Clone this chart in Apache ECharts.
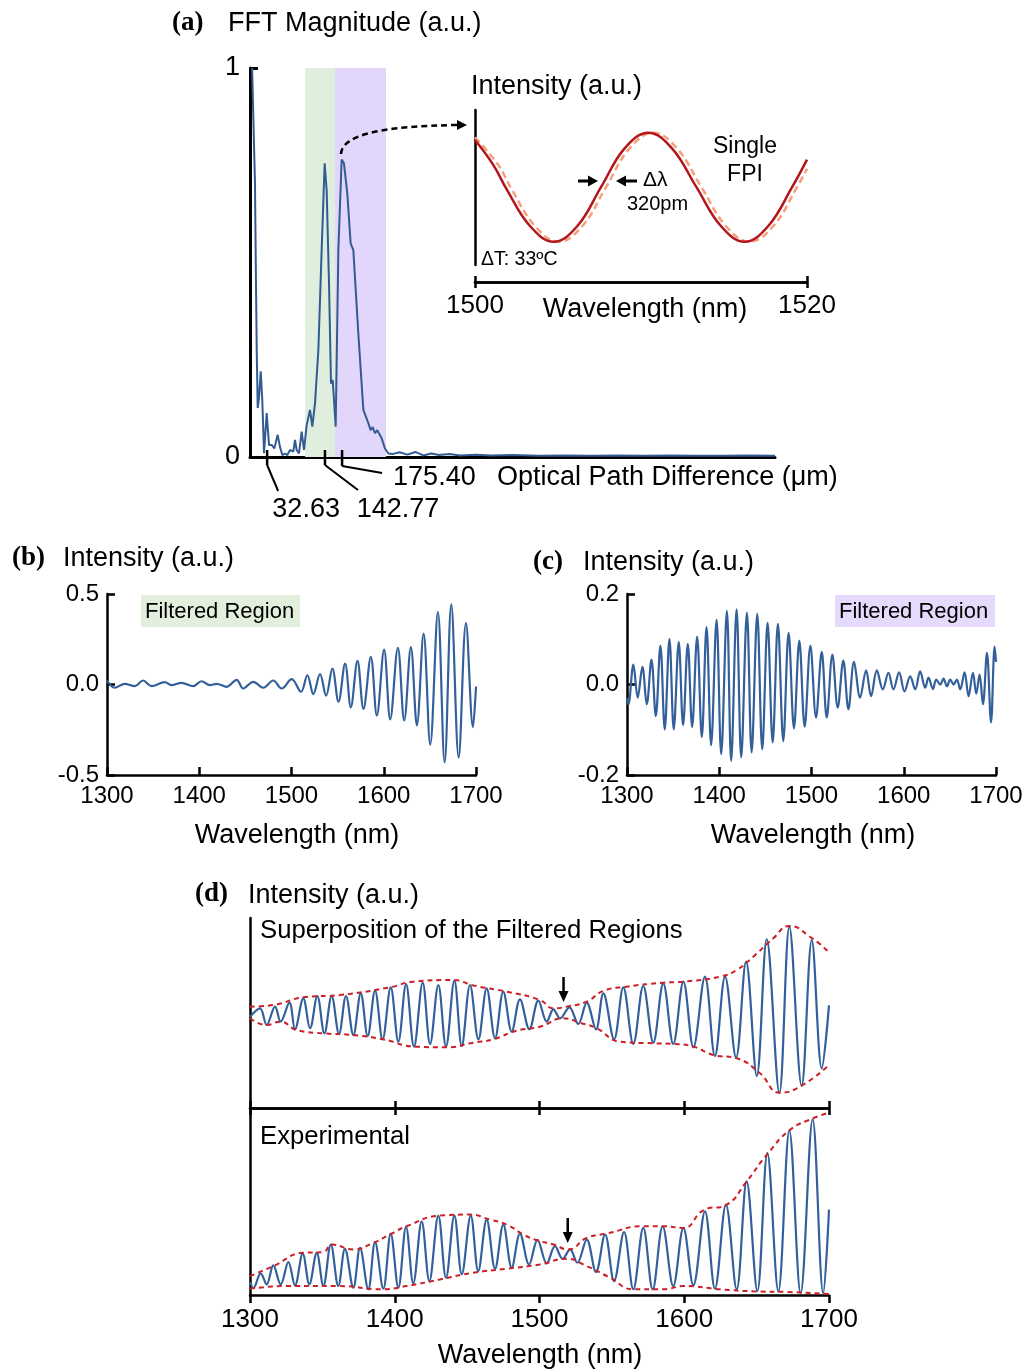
<!DOCTYPE html>
<html><head><meta charset="utf-8">
<script src="https://cdn.jsdelivr.net/npm/echarts@6/dist/echarts.min.js"></script>
<style>html,body{margin:0;padding:0;background:#fff}#c{width:1029px;height:1371px}</style>
</head><body><div id="c"></div>
<script>
// ---------------- DATA ----------------
// (a) FFT magnitude vs optical path difference (um)
const fftData = [[4,1.0],[6.3,0.995],[9.5,0.703],[11.4,0.445],[12.8,0.275],[14.7,0.126],[17,0.15],[20.4,0.22],[23.4,0.147],[26.7,0.01],[31.8,0.113],[36.2,0.031],[41.3,0.031],[46.3,0.022],[52.7,0.057],[57.1,0.026],[61.6,0.005],[66.7,0.009],[71.1,0.005],[76.2,0.018],[79.4,0.022],[82.5,0.014],[85.7,0.044],[88.9,0.018],[93.3,0.009],[98.4,0.065],[102.9,0.018],[107.9,0.082],[114.3,0.121],[118.7,0.078],[123.8,0.138],[130.2,0.275],[136.5,0.532],[142.2,0.755],[146.0,0.686],[150.5,0.446],[154.3,0.189],[157.5,0.198],[160,0.147],[163.2,0.078],[168.3,0.532],[174.6,0.765],[179,0.755],[185.3,0.678],[191.7,0.549],[196.8,0.532],[206.3,0.318],[215.9,0.121],[225.4,0.087],[229.8,0.069],[233.7,0.077],[238.1,0.061],[242.5,0.069],[250.8,0.048],[257.1,0.022],[263.5,0.009],[273,0.008],[285,0.012],[300,0.006],[315,0.013],[330,0.004],[345,0.009],[360,0.005],[380,0.008],[400,0.004],[430,0.006],[460,0.004],[500,0.005],[550,0.003],[600,0.004],[650,0.003],[700,0.004],[750,0.003],[800,0.004],[850,0.003],[900,0.003],[950,0.004],[1000,0.003]];
const bandGreen = [105, 162];
const bandPurple = [162, 259];
const opdTicks = [32.63, 142.77, 175.40];
const opdTickLabels = ['32.63', '142.77', '175.40'];

// (a) inset: single FPI spectrum, before / after temperature change
const insetSolid = [[1500,0.806],[1501.1,0.646],[1501.9,0.49],[1503.3,0.253],[1504.74,0.150],[1506.18,0.253],[1507.59,0.502],[1509.0,0.751],[1510.44,0.854],[1511.88,0.751],[1513.34,0.502],[1514.8,0.253],[1516.24,0.150],[1517.68,0.253],[1519.1,0.502],[1520,0.68]];
const insetDashed = [[1500,0.824],[1501.4,0.646],[1502.2,0.49],[1503.6,0.253],[1505.04,0.150],[1506.48,0.253],[1507.89,0.502],[1509.3,0.751],[1510.74,0.854],[1512.18,0.751],[1513.64,0.502],[1515.1,0.253],[1516.54,0.150],[1517.98,0.253],[1519.4,0.502],[1520,0.62]];
const insetTicks = [1500, 1520];

// (b) filtered region (green) : extrema [wavelength nm, intensity]
const bData = [[1300,0.022],[1308.4,-0.018],[1319.2,0.004],[1330.1,-0.009],[1339.1,0.022],[1348.2,-0.009],[1362.6,0.013],[1369.9,-0.004],[1380.8,0.009],[1393.4,-0.009],[1402.5,0.018],[1411.5,-0.004],[1418.8,0.004],[1429.6,-0.013],[1440.5,0.026],[1447.7,-0.022],[1458.5,0.015],[1469.4,-0.018],[1480.2,0.022],[1489.4,-0.022],[1500.2,0.03],[1510.3,-0.04],[1517.2,0.051],[1523.7,-0.053],[1530.9,0.058],[1537.5,-0.062],[1544.3,0.088],[1550.9,-0.095],[1558.1,0.115],[1564.3,-0.126],[1571.5,0.13],[1578.0,-0.135],[1586.0,0.153],[1592.5,-0.172],[1600.4,0.193],[1607.0,-0.193],[1615.3,0.203],[1622.2,-0.199],[1629.4,0.206],[1635.9,-0.226],[1643.2,0.281],[1650.4,-0.332],[1658.7,0.40],[1666.0,-0.43],[1673.2,0.443],[1681.2,-0.403],[1689.1,0.339],[1696.7,-0.235],[1700,-0.011]];

// (c) filtered region (purple)
const cData = [[1300,-0.03],[1301.5,-0.044],[1306.9,0.044],[1311.6,-0.029],[1316.7,0.039],[1321.4,-0.044],[1326.5,0.055],[1331.2,-0.070],[1336.2,0.086],[1340.9,-0.099],[1346.0,0.101],[1350.7,-0.099],[1356.1,0.094],[1360.8,-0.090],[1365.9,0.090],[1370.6,-0.094],[1376.0,0.106],[1381.1,-0.116],[1386.2,0.127],[1391.2,-0.134],[1397.1,0.143],[1402.1,-0.154],[1408.3,0.163],[1412.9,-0.169],[1418.8,0.166],[1423.8,-0.161],[1430.0,0.159],[1435.1,-0.150],[1441.2,0.156],[1446.6,-0.143],[1452.4,0.136],[1457.9,-0.128],[1463.6,0.134],[1469.4,-0.125],[1475.2,0.114],[1481.0,-0.097],[1486.8,0.097],[1492.6,-0.093],[1498.8,0.086],[1504.9,-0.073],[1511.1,0.072],[1516.5,-0.073],[1522.6,0.066],[1528.4,-0.051],[1534.5,0.053],[1540,-0.055],[1546.1,0.050],[1552.7,-0.029],[1559.2,0.031],[1564.6,-0.026],[1570.8,0.031],[1577.3,-0.011],[1583.4,0.026],[1588.8,-0.011],[1595.0,0.027],[1600.8,-0.015],[1607.0,0.018],[1612.4,-0.011],[1617.8,0.029],[1623.2,-0.007],[1626.8,0.015],[1631.6,-0.010],[1635.2,0.011],[1639.5,0.0],[1643.1,0.013],[1646.8,-0.004],[1650.4,0.011],[1654,0.0],[1657.6,0.011],[1661.2,-0.011],[1665.9,0.027],[1670.3,-0.026],[1675,0.026],[1678.6,-0.02],[1682.2,0.022],[1685.8,-0.044],[1690.2,0.07],[1694.6,-0.084],[1698.5,0.084],[1700,0.05]];

// (d) superposition of filtered regions
const dSimData = [[1300,-0.039],[1306.9,0.049],[1311.5,-0.126],[1317.3,0.067],[1321.2,-0.091],[1327.2,0.109],[1331.1,-0.172],[1336.8,0.154],[1341.5,-0.161],[1346.5,0.179],[1351.4,-0.214],[1356.4,0.179],[1361.5,-0.221],[1366.3,0.179],[1371.4,-0.232],[1376.5,0.207],[1381.3,-0.242],[1386.4,0.235],[1391.6,-0.277],[1397.2,0.270],[1402.5,-0.302],[1407.8,0.305],[1413.3,-0.354],[1419.3,0.319],[1424.4,-0.326],[1430.1,0.295],[1435.4,-0.354],[1441.2,0.340],[1446.3,-0.347],[1452.0,0.295],[1457.8,-0.277],[1463.5,0.260],[1469.3,-0.267],[1475.0,0.225],[1480.8,-0.196],[1486.5,0.144],[1493.0,-0.172],[1499.2,0.130],[1505.0,-0.091],[1509.6,0.039],[1514.2,-0.056],[1520.6,0.060],[1526.8,-0.116],[1532.6,0.109],[1539.0,-0.172],[1544.1,0.207],[1551.5,-0.277],[1557.9,0.270],[1564.8,-0.326],[1571.7,0.284],[1578.6,-0.312],[1585.5,0.312],[1592.4,-0.326],[1599.4,0.330],[1606.3,-0.361],[1614.3,0.382],[1621.2,-0.453],[1628.2,0.382],[1635.8,-0.470],[1642.7,0.540],[1650.1,-0.663],[1657.0,0.776],[1665.7,-0.839],[1672.6,0.909],[1681.1,-0.768],[1688.1,0.768],[1695.0,-0.582],[1700,0.08]];
const dSimUpper = [[1300,0.067],[1316.1,0.084],[1336.8,0.165],[1362.2,0.189],[1396.7,0.270],[1412.8,0.330],[1440.5,0.347],[1454.3,0.290],[1477.3,0.225],[1500.3,0.137],[1509.6,0.049],[1518.8,0.067],[1532.6,0.119],[1544.1,0.232],[1560.2,0.277],[1585.5,0.319],[1599.4,0.330],[1624.7,0.382],[1636.2,0.453],[1647.7,0.593],[1661.5,0.786],[1672.6,0.916],[1686.9,0.803],[1700,0.64]];
const dSimLower = [[1300,-0.056],[1311.5,-0.126],[1320.9,-0.091],[1332.2,-0.179],[1350.7,-0.214],[1371.4,-0.232],[1392.1,-0.277],[1414.0,-0.354],[1435.9,-0.361],[1454.3,-0.312],[1468.1,-0.277],[1484.2,-0.186],[1500.3,-0.144],[1516.4,-0.056],[1528.0,-0.102],[1539.5,-0.161],[1555.6,-0.302],[1578.6,-0.319],[1592.4,-0.326],[1606.3,-0.354],[1620.1,-0.442],[1636.2,-0.477],[1652.3,-0.635],[1666.1,-0.839],[1679.9,-0.775],[1700,-0.55]];

// (d) experimental
const dExpData = [[1300,0.10],[1302.3,0.035],[1307.4,0.196],[1311.5,0.076],[1316.1,0.283],[1321.2,0.076],[1326.5,0.319],[1331.1,0.065],[1336.4,0.413],[1341.0,0.076],[1346.1,0.420],[1350.7,0.058],[1355.8,0.511],[1361.0,0.058],[1365.6,0.464],[1371.4,0.040],[1376.0,0.475],[1381.7,0.022],[1386.4,0.536],[1392.1,0.029],[1397.2,0.630],[1402.5,0.040],[1407.8,0.703],[1412.8,0.087],[1418.6,0.764],[1423.9,0.112],[1430.1,0.826],[1435.4,0.149],[1441.2,0.826],[1446.3,0.185],[1452.5,0.826],[1457.7,0.221],[1463.5,0.783],[1469.3,0.247],[1475.0,0.728],[1480.8,0.258],[1486.5,0.630],[1492.8,0.293],[1498.6,0.562],[1505.0,0.304],[1510.7,0.493],[1516.0,0.355],[1521.1,0.457],[1526.1,0.312],[1532.6,0.565],[1539.0,0.210],[1545.3,0.620],[1551.5,0.112],[1558.4,0.645],[1564.8,0.022],[1571.7,0.692],[1578.2,0.022],[1585.1,0.710],[1592.4,0.058],[1599.4,0.692],[1606.3,0.065],[1614.3,0.873],[1621.2,0.029],[1628.8,0.946],[1636.2,0.022],[1643.1,1.199],[1650.5,0.004],[1657.4,1.507],[1665.0,0.0],[1672.6,1.754],[1680.4,-0.02],[1688.7,1.877],[1696.0,-0.02],[1700,0.891]];
const dExpUpper = [[1300,0.166],[1316.1,0.275],[1336.8,0.420],[1350.7,0.427],[1356.4,0.511],[1371.4,0.457],[1385.2,0.529],[1396.7,0.620],[1408.2,0.710],[1431.2,0.826],[1451.9,0.837],[1465.7,0.783],[1477.3,0.728],[1488.8,0.620],[1498.1,0.558],[1509.6,0.511],[1519.9,0.457],[1532.6,0.583],[1546.4,0.630],[1571.7,0.710],[1585.5,0.710],[1599.4,0.692],[1613.2,0.884],[1629.3,0.946],[1643.1,1.199],[1657.0,1.489],[1673.1,1.761],[1689.2,1.888],[1700,1.949]];
const dExpLower = [[1300,0.029],[1326.5,0.058],[1361.0,0.058],[1391.0,0.022],[1408.2,0.058],[1431.2,0.130],[1454.3,0.203],[1477.3,0.247],[1500.3,0.293],[1518.8,0.355],[1532.6,0.275],[1548.7,0.149],[1564.8,0.022],[1585.5,0.022],[1599.4,0.058],[1624.7,0.022],[1647.7,0.0],[1670.8,-0.007],[1700,-0.03]];
const dArrowWl = [1516.6, 1519.5];
const wlTicks = [1300, 1400, 1500, 1600, 1700];

// ---------------- CHART ----------------
const FONT = '"Liberation Sans", Arial, sans-serif';
const SERIF = '"Liberation Serif", "DejaVu Serif", serif';
const BLUE = '#33609a';
const chart = echarts.init(document.getElementById('c'), null, {renderer: 'canvas'});

const axLine = (w) => ({show: true, onZero: false, lineStyle: {color: '#000', width: w || 2.5}});
const noSplit = {show: false};
const plain = v => String(Math.round(v * 1000) / 1000);
const lbl = (size, margin, extra) => Object.assign({color: '#000', fontFamily: FONT, fontSize: size, margin: margin, formatter: plain}, extra || {});

const grids = [
  {left: 250, top: 68, width: 525, height: 389},   // 0 (a)
  {left: 475, top: 110, width: 332, height: 155},  // 1 inset
  {left: 107, top: 594, width: 369, height: 181},  // 2 (b)
  {left: 627, top: 594, width: 369, height: 181},  // 3 (c)
  {left: 250, top: 918, width: 579, height: 190},  // 4 (d) upper
  {left: 250, top: 1108, width: 579, height: 187}  // 5 (d) lower
].map(g => Object.assign({outerBoundsMode: 'none', containLabel: false}, g));

const wlMin = wlTicks[0], wlMax = wlTicks[wlTicks.length - 1];
const tk = (inside, len, w) => ({show: true, inside: inside, length: len, lineStyle: {color: '#000', width: w || 2.5}});

const xAxes = [
  {gridIndex: 0, type: 'value', position: 'bottom', min: 0, max: 1000, axisLine: axLine(3), axisTick: {show: false}, axisLabel: {show: false}, splitLine: noSplit},
  {gridIndex: 1, type: 'value', position: 'bottom', min: insetTicks[0], max: insetTicks[1], interval: insetTicks[1] - insetTicks[0], offset: 17, axisLine: axLine(2.5), axisTick: tk(false, 6), axisLabel: lbl(26, 11), splitLine: noSplit},
  {gridIndex: 1, type: 'value', position: 'bottom', min: insetTicks[0], max: insetTicks[1], interval: insetTicks[1] - insetTicks[0], offset: 17, axisLine: axLine(2.5), axisTick: tk(true, 6), axisLabel: {show: false}, splitLine: noSplit},
  {gridIndex: 2, type: 'value', position: 'bottom', min: wlMin, max: wlMax, interval: 100, axisLine: axLine(), axisTick: tk(true, 8), axisLabel: lbl(24, 9), splitLine: noSplit},
  {gridIndex: 3, type: 'value', position: 'bottom', min: wlMin, max: wlMax, interval: 100, axisLine: axLine(), axisTick: tk(true, 8), axisLabel: lbl(24, 9), splitLine: noSplit},
  {gridIndex: 4, type: 'value', position: 'bottom', min: wlMin, max: wlMax, interval: 100, axisLine: axLine(), axisTick: tk(true, 7), axisLabel: {show: false}, splitLine: noSplit},
  {gridIndex: 5, type: 'value', position: 'bottom', min: wlMin, max: wlMax, interval: 100, axisLine: axLine(), axisTick: tk(false, 8), axisLabel: lbl(26, 12), splitLine: noSplit},
  {gridIndex: 5, type: 'value', position: 'top', min: wlMin, max: wlMax, interval: 100, axisLine: axLine(), axisTick: tk(true, 7), axisLabel: {show: false}, splitLine: noSplit}
];
const yAxes = [
  {gridIndex: 0, type: 'value', position: 'left', min: 0, max: 1, interval: 1, axisLine: axLine(3), axisTick: tk(true, 8, 3), axisLabel: lbl(27, 10), splitLine: noSplit},
  {gridIndex: 1, type: 'value', position: 'left', min: 0, max: 1, axisLine: axLine(2.5), axisTick: {show: false}, axisLabel: {show: false}, splitLine: noSplit},
  {gridIndex: 2, type: 'value', position: 'left', min: -0.5, max: 0.5, interval: 0.5, axisLine: axLine(), axisTick: tk(true, 8), axisLabel: lbl(24, 8, {formatter: v => v.toFixed(1)}), splitLine: noSplit},
  {gridIndex: 3, type: 'value', position: 'left', min: -0.2, max: 0.2, interval: 0.2, axisLine: axLine(), axisTick: tk(true, 8), axisLabel: lbl(24, 8, {formatter: v => v.toFixed(1)}), splitLine: noSplit},
  {gridIndex: 4, type: 'value', position: 'left', min: -1, max: 1, axisLine: axLine(), axisTick: {show: false}, axisLabel: {show: false}, splitLine: noSplit},
  {gridIndex: 5, type: 'value', position: 'left', min: -0.04, max: 2.0, axisLine: axLine(), axisTick: {show: false}, axisLabel: {show: false}, splitLine: noSplit}
];

const lineS = (xi, yi, data, color, width, smooth, type, z) => ({
  type: 'line', xAxisIndex: xi, yAxisIndex: yi, data: data, showSymbol: false, symbol: 'none',
  smooth: smooth, lineStyle: {color: color, width: width, type: type || 'solid'}, z: z || 3,
  emphasis: {disabled: true}, silent: true
});

const RED = '#cc1f26';
const series = [
  {type: 'line', xAxisIndex: 0, yAxisIndex: 0, data: [], z: 1, silent: true,
    markArea: {silent: true, data: [
      [{xAxis: bandGreen[0], itemStyle: {color: '#dfeedd'}}, {xAxis: bandGreen[1]}],
      [{xAxis: bandPurple[0], itemStyle: {color: '#e2d6fa'}}, {xAxis: bandPurple[1]}]
    ]}},
  lineS(0, 0, fftData, '#335b92', 2, false, 'solid', 3),
  lineS(1, 1, insetDashed, '#f4a07c', 2.5, 0.4, [7, 4], 3),
  lineS(1, 1, insetSolid, '#b3161c', 2.5, 0.4, 'solid', 4),
  lineS(3, 2, bData, BLUE, 2.2, 0.36),
  lineS(4, 3, cData, BLUE, 2.2, 0.36),
  lineS(5, 4, dSimData, BLUE, 2.2, 0.36),
  lineS(5, 4, dSimUpper, RED, 2, 0.5, [5, 4], 5),
  lineS(5, 4, dSimLower, RED, 2, 0.5, [5, 4], 5),
  lineS(6, 5, dExpData, BLUE, 2.2, 0.36),
  lineS(6, 5, dExpUpper, RED, 2, 0.5, [5, 4], 5),
  lineS(6, 5, dExpLower, RED, 2, 0.5, [5, 4], 5)
];

chart.setOption({
  animation: false,
  backgroundColor: '#fff',
  grid: grids, xAxis: xAxes, yAxis: yAxes, series: series
});

// ---------------- ANNOTATIONS ----------------
const T = (text, x, y, size, align, opts) => ({
  type: 'text', x: x, y: y, z: 10, silent: true,
  style: {text: text, fill: '#000', font: (opts && opts.bold ? 'bold ' : '') + size + 'px ' + ((opts && opts.serif) ? SERIF : FONT),
    align: align || 'left', textAlign: align || 'left', verticalAlign: 'middle', textVerticalAlign: 'middle'}
});
const L = (x1, y1, x2, y2, w) => ({type: 'line', z: 10, silent: true, shape: {x1, y1, x2, y2}, style: {stroke: '#000', lineWidth: w || 2}});
const P = (pts) => ({type: 'polyline', z: 10, silent: true, shape: {points: pts}, style: {stroke: '#000', lineWidth: 2, fill: null}});
const G = (pts) => ({type: 'polygon', z: 10, silent: true, shape: {points: pts}, style: {fill: '#000'}});
const px = (ax, v) => chart.convertToPixel({xAxisIndex: ax}, v);

const g = [];
// panel (a)
g.push(T('(a)', 172, 23, 27, 'left', {bold: true, serif: true}));
g.push(T('FFT Magnitude (a.u.)', 228, 24, 27));
const y0 = chart.convertToPixel({yAxisIndex: 0}, 0);
const tx = opdTicks.map(v => px(0, v));
g.push(L(tx[0], y0 - 7, tx[0], y0 + 8, 2.5), P([[tx[0], y0 + 8], [tx[0] + 11, y0 + 34]]));
g.push(L(tx[1], y0 - 7, tx[1], y0 + 8, 2.5), P([[tx[1], y0 + 8], [tx[1] + 33, y0 + 33]]));
g.push(L(tx[2], y0 - 7, tx[2], y0 + 9, 2.5), P([[tx[2], y0 + 9], [tx[2] + 40, y0 + 16]]));
g.push(T(opdTickLabels[0], tx[0] + 39, 510, 27, 'center'));
g.push(T(opdTickLabels[1], tx[1] + 73, 510, 27, 'center'));
g.push(T(opdTickLabels[2], tx[2] + 51, 478, 27, 'left'));
g.push(T('Optical Path Difference (\u03bcm)', 497, 478, 27));
// dashed curved arrow to inset
g.push({type: 'bezierCurve', z: 10, silent: true, shape: {x1: 341, y1: 154, cpx1: 342, cpy1: 134, cpx2: 385, cpy2: 126, x2: 458, y2: 125},
  style: {stroke: '#000', lineWidth: 2.5, lineDash: [6, 4], fill: null}});
g.push(G([[467, 125], [457, 120], [457, 130]]));
// inset texts
g.push(T('Intensity (a.u.)', 471, 87, 27));
g.push(T('Wavelength (nm)', 645, 310, 27, 'center'));
g.push(T('Single', 745, 147, 23, 'center'));
g.push(T('FPI', 745, 175, 23, 'center'));
g.push(T('\u0394\u03bb', 643, 180, 21));
g.push(T('320pm', 627, 204, 20));
g.push(T('\u0394T: 33\u00baC', 481, 260, 19.5));
g.push(L(578, 181, 590, 181, 3), G([[598, 181], [588, 175.5], [588, 186.5]]));
g.push(L(626, 181, 637, 181, 3), G([[616, 181], [626, 175.5], [626, 186.5]]));
// panel (b)
g.push(T('(b)', 12, 558, 27, 'left', {bold: true, serif: true}));
g.push(T('Intensity (a.u.)', 63, 559, 27));
g.push(T('Wavelength (nm)', 297, 836, 27, 'center'));
g.push({type: 'rect', z: 9, silent: true, shape: {x: 141, y: 595, width: 159, height: 32}, style: {fill: '#e2efdd'}});
g.push(T('Filtered Region', 145, 611.5, 22));
// panel (c)
g.push(T('(c)', 533, 562, 27, 'left', {bold: true, serif: true}));
g.push(T('Intensity (a.u.)', 583, 563, 27));
g.push(T('Wavelength (nm)', 813, 836, 27, 'center'));
g.push({type: 'rect', z: 9, silent: true, shape: {x: 835, y: 595, width: 160, height: 32}, style: {fill: '#e5dafb'}});
g.push(T('Filtered Region', 839, 611.5, 22));
// panel (d)
g.push(T('(d)', 195, 894, 27, 'left', {bold: true, serif: true}));
g.push(T('Intensity (a.u.)', 248, 896, 27));
g.push(T('Superposition of the Filtered Regions', 260, 931, 25.7));
g.push(T('Experimental', 260, 1137, 25.7));
g.push(T('Wavelength (nm)', 540, 1356, 27, 'center'));
const ax1 = px(5, dArrowWl[0]), ax2 = px(6, dArrowWl[1]);
g.push(L(ax1, 977, ax1, 993, 2.5), G([[ax1, 1002], [ax1 - 5, 991], [ax1 + 5, 991]]));
g.push(L(ax2, 1218, ax2, 1234, 2.5), G([[ax2, 1243], [ax2 - 5, 1232], [ax2 + 5, 1232]]));

chart.setOption({graphic: {elements: g}});
</script>
</body></html>
